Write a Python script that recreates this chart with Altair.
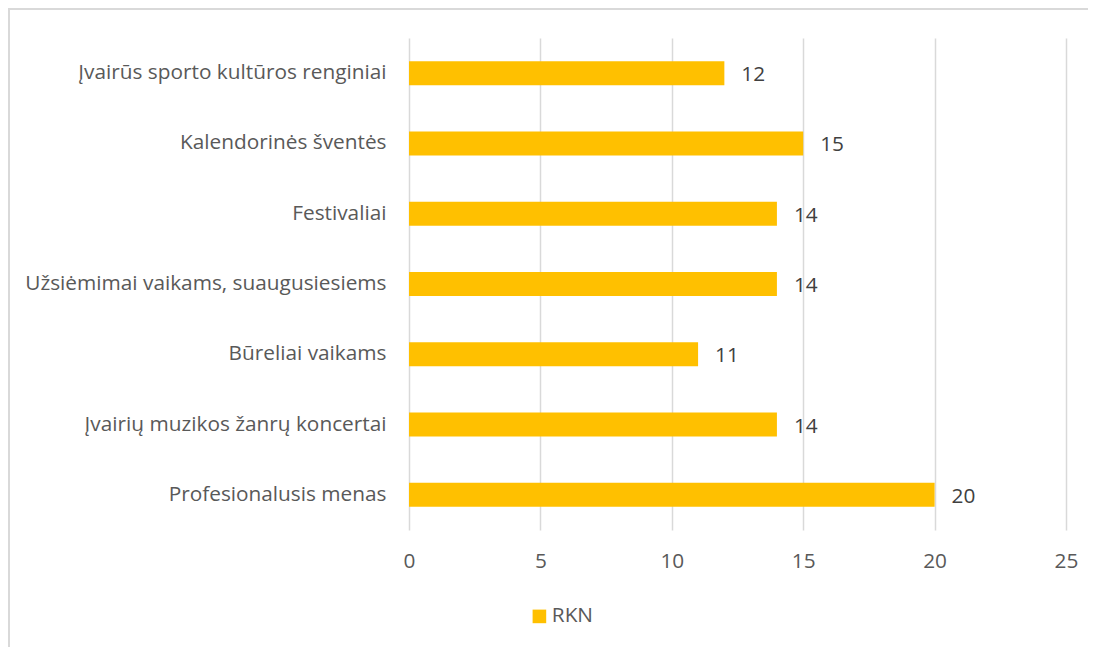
import altair as alt
import pandas as pd

categories = [
    "Įvairūs sporto kultūros renginiai",
    "Kalendorinės šventės",
    "Festivaliai",
    "Užsiėmimai vaikams, suaugusiesiems",
    "Būreliai vaikams",
    "Įvairių muzikos žanrų koncertai",
    "Profesionalusis menas",
]
values = [12, 15, 14, 14, 11, 14, 20]
series = ["RKN"] * len(categories)
x_ticks = [0, 5, 10, 15, 20, 25]

df = pd.DataFrame({"cat": categories, "val": values, "series": series})

FONT = "Open Sans"
FS = 20.8
W, H = 657, 492

y_enc = alt.Y(
    "cat:N",
    sort=categories,
    scale=alt.Scale(paddingInner=0.65, paddingOuter=0.325),
    axis=alt.Axis(
        title=None, ticks=False, domain=False, labelPadding=23,
        labelFontSize=FS, labelFont=FONT, labelColor="#595959", labelLimit=450,
    ),
)

bars = alt.Chart(df).mark_bar(size=24).encode(
    x=alt.X(
        "val:Q",
        scale=alt.Scale(domain=[0, 25], nice=False),
        axis=alt.Axis(
            title=None, values=x_ticks, ticks=False, domain=False,
            grid=True, gridColor="#d9d9d9", gridWidth=1.5, labelFlush=False,
            labelPadding=21, labelFontSize=FS, labelFont=FONT, labelColor="#595959",
        ),
    ),
    y=y_enc,
    color=alt.Color(
        "series:N",
        scale=alt.Scale(range=["#FFC000"]),
        legend=alt.Legend(
            title=None, orient="none", legendX=120, legendY=568,
            symbolType="square", symbolSize=185, symbolStrokeWidth=0,
            labelFontSize=FS, labelFont=FONT, labelColor="#595959", labelOffset=2,
        ),
    ),
)

labels = alt.Chart(df).mark_text(
    align="left", baseline="middle", dx=17, dy=2, fontSize=FS, font=FONT, color="#404040"
).encode(
    x="val:Q",
    y=alt.Y("cat:N", sort=categories),
    text="val:Q",
)

frame = alt.Chart(pd.DataFrame({"k": [0]})).mark_rect(
    fillOpacity=0, stroke="#d9d9d9", strokeWidth=2
).encode(
    x=alt.value(-400), x2=alt.value(720),
    y=alt.value(-29), y2=alt.value(640),
)

chart = alt.layer(frame, bars, labels).properties(
    width=W, height=H,
    background="white",
    autosize=alt.AutoSizeParams(type="none"),
    padding={"left": 401, "top": 30, "right": 22, "bottom": 117},
).configure_view(strokeWidth=0, stroke="transparent")

chart.save("out.html", embed_options={"renderer": "svg", "actions": False})
